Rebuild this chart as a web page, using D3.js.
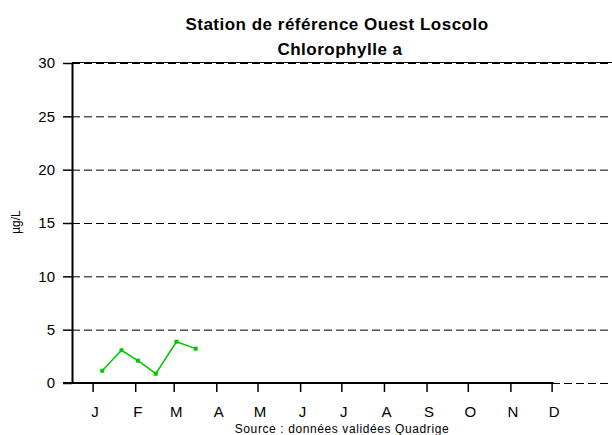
<!DOCTYPE html>
<html>
<head>
<meta charset="utf-8">
<script src="https://cdn.jsdelivr.net/npm/d3@7"></script>
<style>
  body { margin: 0; background: #fff; }
  svg { display: block; font-family: "Liberation Sans", Arial, sans-serif; }
</style>
</head>
<body>
<script>
const width = 612;
const height = 435;
const margin = { top: 63, left: 72, right: 0, bottom: 52 };
const board = {
  width: width - (margin.left + margin.right),
  height: height - (margin.top + margin.bottom),
};

// data
const title = ['Station de référence Ouest Loscolo', 'Chlorophylle a'];
const source = 'Source : données validées Quadrige';
const unit = 'µg/L';
const months = ['J', 'F', 'M', 'A', 'M', 'J', 'J', 'A', 'S', 'O', 'N', 'D'];
const yTicks = [0, 5, 10, 15, 20, 25, 30];
const dates = ['2021-01-23', '2021-02-06', '2021-02-18', '2021-03-03', '2021-03-18', '2021-04-01'];
const values = [1.15, 3.07, 2.09, 0.87, 3.87, 3.22];

const parse = d3.timeParse('%Y-%m-%d');
const data = dates.map((d, i) => ({ date: parse(d), value: values[i] }));

const svg = d3.select('body')
  .append('svg')
    .attr('viewBox', [0, 0, width, height].join(' '))
    .attr('width', width)
    .attr('height', height);

const g = svg.append('g')
  .attr('transform', `translate(${margin.left}, ${margin.top})`);

// one year spans 12 month slots of ~41.8px, grid runs on to the right edge
const x = d3.scaleTime()
  .domain([new Date(2021, 0, 1), new Date(2022, 0, 1)])
  .range([0, 41.8 * 12]);

const y = d3.scaleLinear()
  .domain([0, 30])
  .range([board.height, 0]);

const monthTicks = months.map((m, i) => new Date(2021, i, 16));

// dashed grid
g.append('g')
  .selectAll('line')
  .data(yTicks)
  .join('line')
    .attr('x1', 0)
    .attr('x2', board.width)
    .attr('y1', (d) => y(d) + 0.5)
    .attr('y2', (d) => y(d) + 0.5)
    .attr('stroke', '#000')
    .attr('stroke-dasharray', '8,4');

// solid top border
g.append('line')
  .attr('x1', 0)
  .attr('x2', board.width)
  .attr('y1', y(30) - 0.5)
  .attr('y2', y(30) - 0.5)
  .attr('stroke', '#000')
  .attr('stroke-width', 1.2);

const yAxis = d3.axisLeft(y)
  .tickValues(yTicks)
  .tickSizeInner(9)
  .tickSizeOuter(0)
  .tickPadding(8);

const xAxis = d3.axisBottom(x)
  .tickValues(monthTicks)
  .tickSizeInner(9)
  .tickSizeOuter(0)
  .tickPadding(14)
  .tickFormat((d, i) => months[i]);

const gx = g.append('g')
  .attr('transform', `translate(0, ${board.height})`)
  .call(xAxis);

// axis line runs from the y tick stub to the last month tick
gx.select('.domain').remove();
gx.append('line')
  .attr('x1', -9)
  .attr('x2', x(monthTicks[monthTicks.length - 1]) + 2)
  .attr('stroke', '#000')
  .attr('stroke-width', 2);

const gy = g.append('g')
  .call(yAxis);

gy.select('.domain')
  .attr('stroke-width', 2);

[gx, gy].forEach((a) => {
  a.selectAll('.tick line').attr('stroke', '#000').attr('stroke-width', 1.5);
  a.selectAll('.tick text')
    .attr('fill', '#000')
    .style('font-size', '15px')
    .style('font-family', '"Liberation Sans", Arial, sans-serif');
});
gx.selectAll('.tick text').attr('dx', 2);

// series
const line = d3.line()
  .x((d) => x(d.date))
  .y((d) => y(d.value));

g.append('path')
  .datum(data)
  .attr('fill', 'none')
  .attr('stroke', '#00c800')
  .attr('stroke-width', 1.5)
  .attr('d', line);

g.selectAll('.pt')
  .data(data)
  .join('rect')
    .attr('class', 'pt')
    .attr('x', (d) => x(d.date) - 2)
    .attr('y', (d) => y(d.value) - 2)
    .attr('width', 4)
    .attr('height', 4)
    .attr('fill', '#00c800');

// titles
svg.append('g')
  .selectAll('text')
  .data(title)
  .join('text')
    .attr('x', (d, i) => 337 + i * 3)
    .attr('y', (d, i) => 30 + i * 25)
    .attr('text-anchor', 'middle')
    .style('font-size', '17px')
    .style('letter-spacing', '0.5px')
    .style('font-weight', 'bold')
    .text((d) => d);

svg.append('text')
  .attr('transform', 'translate(20, 222) rotate(-90)')
  .attr('text-anchor', 'middle')
  .style('font-size', '12px')
  .text(unit);

svg.append('text')
  .attr('x', 342)
  .attr('y', 433)
  .attr('text-anchor', 'middle')
  .style('font-size', '12px')
  .style('letter-spacing', '0.6px')
  .text(source);
</script>
</body>
</html>
